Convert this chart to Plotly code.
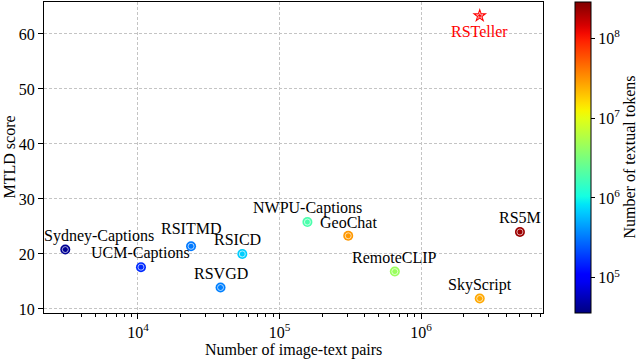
import numpy as np
import plotly.graph_objects as go

# ---- data ----
datasets = ["Sydney-Captions", "UCM-Captions", "RSITMD", "RSICD", "RSVGD",
            "NWPU-Captions", "GeoChat", "RemoteCLIP", "SkyScript", "RS5M"]
pairs = [3065, 10500, 23715, 54605, 38320, 157500, 306000, 653000, 2600000, 5000000]
mtld = [20.8, 17.6, 21.4, 20.0, 13.9, 25.8, 23.3, 16.8, 11.9, 24.0]
tokens = [4.2e4, 1.6e5, 3.2e5, 6.8e5, 3.4e5, 1.9e6, 3.0e7, 4.5e6, 2.6e7, 2.3e8]

highlight_name = "RSTeller"
highlight_pairs = [2600000]
highlight_mtld = [63.3]

token_min, token_max = 3.6e4, 2.87e8

# label offsets (px) for annotations
label_dx = [34, 0, 0, -5, 0, 0, 0, 0, 0, 0]
label_dy = [14, 14, 18, 14, 14, 14, 13, 14, 14, 14]

# ---- matplotlib-like jet colorscale ----
def interp(pts, t):
    xs = [p[0] for p in pts]; ys = [p[1] for p in pts]
    return float(np.interp(t, xs, ys))
R = [(0, 0), (0.35, 0), (0.66, 1), (0.89, 1), (1, 0.5)]
G = [(0, 0), (0.125, 0), (0.375, 1), (0.64, 1), (0.91, 0), (1, 0)]
B = [(0, 0.5), (0.11, 1), (0.34, 1), (0.65, 0), (1, 0)]
jet = []
for t in np.linspace(0, 1, 41):
    r, g, b = (int(round(255 * interp(c, t))) for c in (R, G, B))
    jet.append([float(t), f"rgb({r},{g},{b})"])

font_family = "Liberation Serif, Times New Roman, serif"
FS = 16

W, H = 640, 359
L, Rm, T, Bm = 44, 97, 2, 46
pw, ph = W - L - Rm, H - T - Bm

fig = go.Figure()
fig.add_trace(go.Scatter(
    x=pairs, y=mtld, mode="markers",
    marker=dict(size=10, color=np.log10(tokens), colorscale=jet,
                cmin=np.log10(token_min), cmax=np.log10(token_max),
                line=dict(width=0),
                colorbar=dict(
                    x=(575 - L) / pw, xanchor="left", xpad=0,
                    y=0.5, yanchor="middle", ypad=0,
                    len=1, lenmode="fraction", thickness=16,
                    outlinecolor="black", outlinewidth=1,
                    tickvals=[5, 6, 7, 8],
                    ticktext=["10<sup>5</sup>", "10<sup>6</sup>", "10<sup>7</sup>", "10<sup>8</sup>"],
                    ticks="outside", ticklen=4, tickcolor="black",
                    tickfont=dict(size=FS, family=font_family, color="black"),
                )),
    showlegend=False, hoverinfo="skip"))
# white inner ring
fig.add_trace(go.Scatter(
    x=pairs, y=mtld, mode="markers",
    marker=dict(size=6, symbol="circle-open", color="rgba(255,255,255,0.65)",
                line=dict(width=1)),
    showlegend=False, hoverinfo="skip"))
# highlight star
fig.add_trace(go.Scatter(
    x=highlight_pairs, y=highlight_mtld, mode="markers",
    marker=dict(size=11, symbol="star", color="red", line=dict(width=0)),
    showlegend=False, hoverinfo="skip"))
fig.add_trace(go.Scatter(
    x=highlight_pairs, y=highlight_mtld, mode="markers",
    marker=dict(size=5, symbol="star-open", color="rgba(255,255,255,0.7)", line=dict(width=0.8)),
    showlegend=False, hoverinfo="skip"))

for name, xv, yv, dx, dy in zip(datasets, pairs, mtld, label_dx, label_dy):
    fig.add_annotation(x=np.log10(xv), y=yv, text=name, showarrow=False,
                       xshift=dx, yshift=dy, xanchor="center", yanchor="middle",
                       font=dict(size=FS, family=font_family, color="black"))
fig.add_annotation(x=np.log10(highlight_pairs[0]), y=highlight_mtld[0], text=highlight_name,
                   showarrow=False, xshift=0, yshift=-16, xanchor="center", yanchor="middle",
                   font=dict(size=FS, family=font_family, color="red"))

# axis titles as annotations (paper coords)
fig.add_annotation(xref="paper", yref="paper", x=0.5, y=(H - Bm - 350) / ph,
                   text="Number of image-text pairs", showarrow=False,
                   xanchor="center", yanchor="middle",
                   font=dict(size=FS, family=font_family, color="black"))
fig.add_annotation(xref="paper", yref="paper", x=(9 - L) / pw, y=0.5,
                   text="MTLD score", showarrow=False, textangle=-90,
                   xanchor="center", yanchor="middle",
                   font=dict(size=FS, family=font_family, color="black"))
fig.add_annotation(xref="paper", yref="paper", x=(629 - L) / pw, y=0.5,
                   text="Number of textual tokens", showarrow=False, textangle=-90,
                   xanchor="center", yanchor="middle",
                   font=dict(size=FS, family=font_family, color="black"))

minor_x = [m * 10 ** e for e in range(3, 7) for m in range(2, 10)]
fig.update_xaxes(
    type="log", range=[3.336, 6.862],
    tickvals=[1e4, 1e5, 1e6],
    ticktext=["10<sup>4</sup>", "10<sup>5</sup>", "10<sup>6</sup>"],
    ticks="outside", ticklen=5, tickcolor="black",
    minor=dict(tickvals=minor_x, ticks="outside", ticklen=3, tickcolor="black", showgrid=False),
    showgrid=True, gridcolor="#c4c4c4", griddash="3px,2px", gridwidth=1,
    showline=True, linecolor="black", linewidth=1, mirror=True,
    zeroline=False, automargin=False,
    tickfont=dict(size=FS, family=font_family, color="black"),
)
fig.update_yaxes(
    range=[9.27, 65.8], tickvals=[10, 20, 30, 40, 50, 60],
    ticks="outside", ticklen=5, tickcolor="black",
    showgrid=True, gridcolor="#c4c4c4", griddash="3px,2px", gridwidth=1,
    showline=True, linecolor="black", linewidth=1, mirror=True,
    zeroline=False, automargin=False,
    tickfont=dict(size=FS, family=font_family, color="black"),
)
fig.update_layout(
    width=W, height=H,
    margin=dict(l=L, r=Rm, t=T, b=Bm, autoexpand=False),
    plot_bgcolor="white", paper_bgcolor="white",
    font=dict(family=font_family, color="black"),
)
fig.write_html("out.html", config={"displayModeBar": False},
               post_script="document.body.style.margin='0';document.body.style.overflow='hidden';")
